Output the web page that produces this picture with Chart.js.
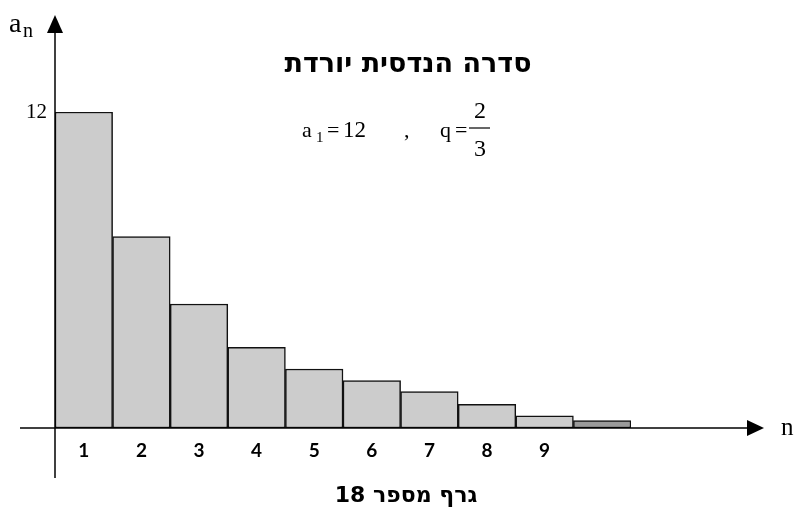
<!DOCTYPE html>
<html>
<head>
<meta charset="utf-8">
<script src="https://cdn.jsdelivr.net/npm/chart.js@4"></script>
<style>
  html, body { margin: 0; padding: 0; background: #fff; }
  #chart { display: block; }
</style>
</head>
<body>
<canvas id="chart" width="796" height="509"></canvas>
<script>
// sequence terms
const nLabels = ["1", "2", "3", "4", "5", "6", "7", "8", "9", ""];
const anValues = [12, 7.27, 4.71, 3.06, 2.24, 1.80, 1.38, 0.90, 0.46, 0.28];
const yTickValues = [12];

const serif = "'Liberation Serif', 'Times New Roman', serif";
const hebrew = "'DejaVu Sans', sans-serif";

const axesAndText = {
    id: "axesAndText",
    afterDatasetsDraw(chart) {
        const ctx = chart.ctx;
        const area = chart.chartArea;
        const zeroY = chart.scales.y.getPixelForValue(0);
        const axisX = area.left;
        ctx.save();
        ctx.strokeStyle = "#000";
        ctx.fillStyle = "#000";
        ctx.lineWidth = 1.5;

        // y axis + arrow
        ctx.beginPath();
        ctx.moveTo(axisX, 478);
        ctx.lineTo(axisX, 30);
        ctx.stroke();
        ctx.beginPath();
        ctx.moveTo(axisX, 15);
        ctx.lineTo(axisX - 8, 33);
        ctx.lineTo(axisX + 8, 33);
        ctx.closePath();
        ctx.fill();

        // x axis + arrow
        ctx.beginPath();
        ctx.moveTo(20, zeroY);
        ctx.lineTo(750, zeroY);
        ctx.stroke();
        ctx.beginPath();
        ctx.moveTo(764, zeroY);
        ctx.lineTo(747, zeroY - 8);
        ctx.lineTo(747, zeroY + 8);
        ctx.closePath();
        ctx.fill();

        // axis names
        ctx.textBaseline = "alphabetic";
        ctx.textAlign = "left";
        ctx.font = "28px " + serif;
        ctx.fillText("a", 9, 32);
        ctx.font = "20px " + serif;
        ctx.fillText("n", 23, 37);
        ctx.font = "25px " + serif;
        ctx.fillText("n", 781, 435);

        // title and caption
        ctx.direction = "rtl";
        ctx.textAlign = "center";
        ctx.font = "bold 27px " + hebrew;
        ctx.fillText("סדרה הנדסית יורדת", 408, 72);
        ctx.font = "bold 22px " + hebrew;
        ctx.fillText("גרף מספר 18", 406, 502);

        // formula
        ctx.direction = "ltr";
        ctx.textAlign = "left";
        ctx.font = "22px " + serif;
        ctx.fillText("a", 302, 137);
        ctx.font = "15px " + serif;
        ctx.fillText("1", 316, 142);
        ctx.font = "22px " + serif;
        ctx.fillText("=", 327, 137);
        ctx.font = "23px " + serif;
        ctx.fillText("12", 343, 137);
        ctx.font = "22px " + serif;
        ctx.fillText(",", 404, 137);
        ctx.fillText("q", 440, 137);
        ctx.fillText("=", 455, 137);
        ctx.font = "24px " + serif;
        ctx.textAlign = "center";
        ctx.fillText("2", 480, 118);
        ctx.fillText("3", 480, 156);
        ctx.lineWidth = 1.2;
        ctx.beginPath();
        ctx.moveTo(469, 128);
        ctx.lineTo(490, 128);
        ctx.stroke();
        ctx.restore();
    }
};

new Chart(document.getElementById("chart"), {
    type: "bar",
    data: {
        labels: nLabels,
        datasets: [{
            data: anValues,
            backgroundColor: (c) => c.dataIndex === anValues.length - 1 ? "#9a9a9a" : "#cccccc",
            borderColor: "#111",
            borderWidth: 1.5,
            borderSkipped: false,
            barPercentage: 1,
            categoryPercentage: 1
        }]
    },
    options: {
        responsive: false,
        animation: false,
        devicePixelRatio: 1,
        layout: { padding: { left: 0, top: 112, right: 165, bottom: 41 } },
        plugins: {
            legend: { display: false },
            tooltip: { enabled: false }
        },
        scales: {
            x: {
                grid: { display: false, drawTicks: false },
                border: { display: false },
                ticks: {
                    color: "#000",
                    padding: 11,
                    font: { family: "Lato, sans-serif", size: 19, weight: "bold" }
                },
                afterFit: (scale) => { scale.height = 40; }
            },
            y: {
                min: 0,
                max: 12,
                grid: { display: false, drawTicks: false },
                border: { display: false },
                afterBuildTicks: (scale) => { scale.ticks = yTickValues.map(v => ({ value: v })); },
                ticks: {
                    color: "#000",
                    padding: 8,
                    font: { family: serif, size: 21 }
                },
                afterFit: (scale) => { scale.width = 55; }
            }
        }
    },
    plugins: [axesAndText]
});
</script>
</body>
</html>
